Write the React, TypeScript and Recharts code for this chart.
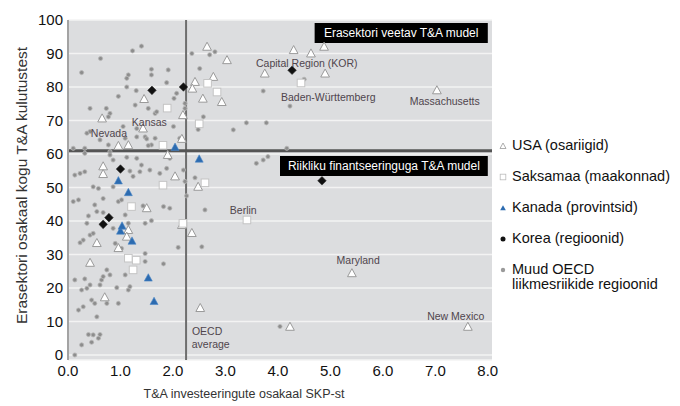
import React from 'react';
import {
  ScatterChart,
  Scatter,
  XAxis,
  YAxis,
  CartesianGrid,
  ReferenceLine,
  ReferenceArea,
  Label,
} from 'recharts';

const FONT = '"Liberation Sans", Arial, Helvetica, sans-serif';

const xTicks = [0, 1, 2, 3, 4, 5, 6, 7, 8];
const yTicks = [0, 10, 20, 30, 40, 50, 60, 70, 80, 90, 100];

const oecdAverageX = 2.25;
const modelDividerY = 61;

// Muud OECD liikmesriikide regioonid
const otherRegions: [number, number][] = [
  [1.4, 92.2], [1.23, 90.8], [0.62, 88.5], [0.26, 84.3], [1.59, 85.3], [1.59, 83.6], [1.91, 85.1],
  [1.15, 83.6], [1.12, 82.6], [1.88, 81.3], [1.12, 80], [1.3, 78.9], [0.96, 77.2], [0.42, 73.6],
  [0.73, 73.6], [1.28, 74.6], [1.53, 73.6], [1.66, 72.1], [2.02, 76.6], [2.07, 78.1], [2.23, 75.1],
  [2.23, 73.6], [2.01, 68.2], [1.31, 65.1], [1.47, 65.1], [0.8, 72.1], [1.05, 68.2], [0.42, 66.7],
  [0.61, 64.2], [0.1, 61.7], [0.32, 60.2], [0.8, 60.7], [1.59, 62.7], [0.86, 58.2], [1.31, 58.7],
  [2.36, 90], [2.51, 85.5], [2.7, 89.6], [2.8, 90.5], [3.4, 69.3], [3.15, 67.2], [3.78, 69.3],
  [3.72, 78.8], [4.23, 74.3], [2.58, 71.1], [2.48, 67.3], [3.59, 57.2], [3.72, 58.2], [3.81, 59.2],
  [4.17, 61.7], [2.42, 52.9], [4.5, 82.3], [2.61, 43.3], [2.55, 32.3], [4.04, 8.5],
  [0.77, 71.1], [1.69, 72.6], [0.36, 66.2], [1.31, 67.6], [1.5, 64.5], [1.09, 64.7], [1.66, 64.7],
  [2.13, 64.7], [0.32, 61.7], [0.77, 62.7], [1.53, 62.5], [0.8, 59.7], [1.12, 59], [1.4, 56.7],
  [1.56, 55.2], [1.94, 58.7], [1.88, 55.7], [1.18, 54.9], [0.13, 53.7], [0.23, 54.2], [0.32, 54.7],
  [0.48, 50.2], [0.58, 49.7], [0.86, 50.2], [1.24, 53.3], [1.37, 54.7], [1.75, 54.2], [2.2, 55.2],
  [2.23, 51.8], [0.1, 45.8], [0.2, 46.3], [0.51, 44.8], [0.67, 46.7], [0.96, 45.8], [1.02, 46.3],
  [1.09, 41.8], [0.55, 42.8], [0.67, 42.5], [0.39, 41.5], [0.36, 39.3], [0.86, 37.8], [1.15, 39.3],
  [1.47, 39.3], [1.59, 40.1], [1.43, 44.5], [1.82, 44.3], [1.94, 43.8], [0.42, 35.8], [0.29, 34.3],
  [0.23, 33.5], [0.48, 36.3], [0.9, 33.3], [1.02, 31.8], [1.47, 30.3], [2.1, 32.1], [1.47, 27.9],
  [0.74, 25.4], [0.8, 23.9], [1.82, 27.2], [1.09, 23.9], [0.13, 22.4], [0.32, 22.7], [0.26, 19.4],
  [0.36, 19.9], [0.42, 20.9], [0.64, 22.4], [0.67, 23.4], [0.61, 20.9], [0.93, 20.1], [1.15, 19.4],
  [1.18, 20.4], [0.2, 13.4], [0.29, 14.4], [0.45, 16.4], [0.51, 15.4], [0.74, 15.4], [0.96, 15.4],
  [0.55, 11.4], [0.39, 6.1], [0.48, 6], [0.61, 6.1], [0.45, 3.8], [0.26, 3], [0.13, 0], [0.58, 5],
  [2.26, 47.5],
];

// USA (osariigid)
const usaStates: [number, number][] = [
  [2.65, 92], [3.03, 88], [4.3, 91], [4.63, 90], [4.88, 92], [3.75, 84], [4.9, 84], [7.03, 79],
  [2.77, 83], [2.42, 81.5], [2.57, 76.5], [2.93, 75.5], [2.37, 79.5], [1.45, 76.4], [0.65, 70.6],
  [2.19, 71.6], [2.17, 64.5], [1.43, 67.6], [0.96, 62.4], [1.15, 62.6], [0.67, 56.3], [0.67, 54],
  [1.9, 59.7], [2.04, 53.3], [0.55, 33.4], [0.42, 27.5], [0.7, 17.2], [1.5, 43.8], [1.15, 37.3],
  [0.96, 31.9], [2.17, 38.8], [2.36, 36.4], [2.52, 14], [4.23, 8.4], [5.41, 24.4], [7.62, 8.4],
  [2.48, 50.2], [1.12, 35.3],
];

// Saksamaa (maakonnad)
const germanRegions: [number, number][] = [
  [2.66, 81.1], [2.84, 78.5], [1.89, 73.7], [2.5, 69], [1.81, 62.6], [1.81, 50.7], [2.61, 51.4],
  [4.44, 81.2], [1.21, 44.3], [1.3, 28.3], [1.15, 28.9], [1.24, 25.4], [3.41, 40.3], [2.19, 39.3],
];

// Kanada (provintsid)
const canadaProvinces: [number, number][] = [
  [0.96, 52], [1.0, 37], [1.03, 38.5], [1.15, 48.5], [1.22, 34], [1.53, 23], [1.64, 16], [2.04, 62],
  [2.5, 58.5],
];

// Korea (regioonid)
const koreaRegions: [number, number][] = [
  [0.67, 39], [0.78, 41], [1.0, 55.5], [1.6, 79], [2.2, 80], [4.27, 85], [4.84, 52],
];

const regionLabels = [
  { name: 'Capital Region (KOR)', x: 4.55, y: 87.2 },
  { name: 'Baden-Württemberg', x: 4.96, y: 77 },
  { name: 'Massachusetts', x: 7.18, y: 75.9 },
  { name: 'Kansas', x: 1.55, y: 69.6 },
  { name: 'Nevada', x: 0.78, y: 66.3 },
  { name: 'Berlin', x: 3.34, y: 43.3 },
  { name: 'Maryland', x: 5.53, y: 28.4 },
  { name: 'New Mexico', x: 7.39, y: 11.6 },
  { name: 'OECD', x: 2.65, y: 7.2 },
  { name: 'average', x: 2.72, y: 3.3 },
];

const modelBoxes = [
  { text: 'Erasektori veetav T&A mudel', x1: 4.7, x2: 8.0, y1: 93.1, y2: 99.1 },
  { text: 'Riikliku finantseeringuga T&A mudel', x1: 4.04, x2: 8.0, y1: 53.4, y2: 59.4 },
];

const legendItems = [
  { kind: 'usa', lines: ['USA (osariigid)'] },
  { kind: 'ger', lines: ['Saksamaa (maakonnad)'] },
  { kind: 'can', lines: ['Kanada (provintsid)'] },
  { kind: 'kor', lines: ['Korea (regioonid)'] },
  { kind: 'oth', lines: ['Muud OECD', 'liikmesriikide regioonid'] },
];

const toPts = (arr: [number, number][]) => arr.map(([x, y]) => ({ x, y }));

const GrayDot = (p: any) => (
  <circle cx={p.cx} cy={p.cy} r={2.1} fill="#8d8d8d" stroke="#b8b8b8" strokeWidth={0.8} />
);
const UsaTri = (p: any) => {
  const { cx, cy } = p;
  const s = 4.6;
  return (
    <polygon
      points={`${cx},${cy - s} ${cx + s * 0.95},${cy + s * 0.75} ${cx - s * 0.95},${cy + s * 0.75}`}
      fill="#ffffff"
      stroke="#9a9a9a"
      strokeWidth={1}
    />
  );
};
const GerSq = (p: any) => (
  <rect x={p.cx - 3.8} y={p.cy - 3.8} width={7.6} height={7.6} fill="#ffffff" stroke="#c4c4c4" strokeWidth={1} />
);
const CanTri = (p: any) => {
  const { cx, cy } = p;
  const s = 4.2;
  return (
    <polygon
      points={`${cx},${cy - s} ${cx + s * 0.95},${cy + s * 0.75} ${cx - s * 0.95},${cy + s * 0.75}`}
      fill="#2c6bb0"
      stroke="#4a86c6"
      strokeWidth={0.6}
    />
  );
};
const KorDia = (p: any) => {
  const { cx, cy } = p;
  const s = 4.3;
  return (
    <polygon
      points={`${cx},${cy - s} ${cx + s},${cy} ${cx},${cy + s} ${cx - s},${cy}`}
      fill="#111111"
      stroke="#333"
      strokeWidth={0.6}
    />
  );
};
const RegionText = (p: any) => (
  <text
    x={p.cx}
    y={p.cy}
    textAnchor="middle"
    dominantBaseline="central"
    fontSize={10.5}
    fontFamily={FONT}
    fill="#4f454d"
  >
    {p.payload.name}
  </text>
);

const LegendMarker = ({ kind }: { kind: string }) => {
  const cx = 5;
  const cy = 8;
  if (kind === 'usa')
    return <polygon points={`${cx},${cy - 3} ${cx + 3},${cy + 2.5} ${cx - 3},${cy + 2.5}`} fill="#fff" stroke="#999" strokeWidth={0.8} />;
  if (kind === 'ger')
    return <rect x={cx - 2.8} y={cy - 2.8} width={5.6} height={5.6} fill="#fff" stroke="#bbb" strokeWidth={0.8} />;
  if (kind === 'can')
    return <polygon points={`${cx},${cy - 2.8} ${cx + 2.8},${cy + 2.2} ${cx - 2.8},${cy + 2.2}`} fill="#2c6bb0" />;
  if (kind === 'kor') return <circle cx={cx} cy={cy} r={2.5} fill="#111" />;
  return <circle cx={cx} cy={cy} r={2.2} fill="#9a9a9a" />;
};

export default function App() {
  return (
    <div style={{ position: 'relative', width: 672, height: 398, fontFamily: FONT }}>
      <ScatterChart width={672} height={398} margin={{ top: 12, right: 188, bottom: 12, left: 15 }}>
        <CartesianGrid vertical={false} fill="#dcdddf" stroke="#f3f3f3" strokeWidth={1.6} fillOpacity={1} />
        <XAxis
          type="number"
          dataKey="x"
          domain={[0, 8.08]}
          ticks={xTicks}
          tickFormatter={(v: number) => v.toFixed(1)}
          axisLine={false}
          tickLine={false}
          tickSize={0}
          tickMargin={5}
          height={34}
          tick={{ fontSize: 15, fill: '#111', fontFamily: FONT }}
          allowDataOverflow
        >
          <Label
            value="T&A investeeringute osakaal SKP-st"
            position="center"
            dx={-36}
            dy={17}
            style={{ fontSize: 12.5, fill: '#333', fontFamily: FONT }}
          />
        </XAxis>
        <YAxis
          type="number"
          dataKey="y"
          domain={[-1.5, 100]}
          ticks={yTicks}
          axisLine={{ stroke: '#a3a3a3', strokeWidth: 2 }}
          tickLine={false}
          tickSize={0}
          tickMargin={5}
          width={45}
          tick={{ fontSize: 15, fill: '#111', fontFamily: FONT }}
          allowDataOverflow
        >
          <Label
            value="Erasektori osakaal kogu T&A kulutustest"
            angle={-90}
            position="center"
            dx={-24.5}
            dy={-4.5}
            style={{ fontSize: 15.5, fill: '#333', fontFamily: FONT, textAnchor: 'middle' }}
          />
        </YAxis>
        <ReferenceLine x={oecdAverageX} stroke="#6e6e6e" strokeWidth={2} />
        <ReferenceLine y={modelDividerY} stroke="#555555" strokeWidth={3} />
        <Scatter data={toPts(otherRegions)} shape={GrayDot} isAnimationActive={false} />
        <Scatter data={toPts(usaStates)} shape={UsaTri} isAnimationActive={false} />
        <Scatter data={toPts(germanRegions)} shape={GerSq} isAnimationActive={false} />
        <Scatter data={toPts(canadaProvinces)} shape={CanTri} isAnimationActive={false} />
        <Scatter data={toPts(koreaRegions)} shape={KorDia} isAnimationActive={false} />
        <Scatter data={regionLabels} shape={RegionText} isAnimationActive={false} />
        {modelBoxes.map((b) => (
          <ReferenceArea
            key={b.text}
            x1={b.x1}
            x2={b.x2}
            y1={b.y1}
            y2={b.y2}
            fill="#000000"
            fillOpacity={1}
            stroke="none"
            label={{ value: b.text, position: 'center', fill: '#ffffff', fontSize: 12, fontFamily: FONT }}
          />
        ))}
      </ScatterChart>
      <div
        style={{
          position: 'absolute',
          left: 490,
          top: 130,
          fontSize: 14.5,
          lineHeight: '15px',
          color: '#111',
          fontFamily: FONT,
        }}
      >
        {legendItems.map((item) => (
          <div key={item.kind} style={{ display: 'flex', alignItems: 'flex-start', marginBottom: 16 }}>
            <svg width={10} height={15} style={{ marginRight: 4, flex: 'none' }}>
              <LegendMarker kind={item.kind} />
            </svg>
            <div>
              {item.lines.map((l) => (
                <div key={l} style={{ whiteSpace: 'nowrap' }}>{l}</div>
              ))}
            </div>
          </div>
        ))}
      </div>
    </div>
  );
}
